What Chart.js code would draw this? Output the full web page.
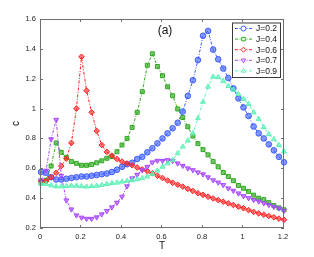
<!DOCTYPE html>
<html><head><meta charset="utf-8">
<script src="https://cdn.jsdelivr.net/npm/chart.js@4/dist/chart.umd.min.js"></script>
<style>html,body{margin:0;padding:0;background:#fff;}#wrap{width:314px;height:257px;}</style>
</head><body><div id="wrap"><canvas id="c" width="314" height="257"></canvas></div>
<script>
// Temperature values (x)
const T = [0.005,0.03,0.055,0.08,0.105,0.13,0.155,0.18,0.205,0.23,0.255,0.28,0.305,0.33,0.355,0.38,0.405,0.43,0.455,0.48,0.505,0.53,0.555,0.58,0.605,0.63,0.655,0.68,0.705,0.73,0.755,0.78,0.805,0.83,0.855,0.88,0.905,0.93,0.955,0.98,1.005,1.03,1.055,1.08,1.105,1.13,1.155,1.18,1.205];
// Specific heat c for each J
const cJ02 = [0.575,0.57,0.54,0.525,0.525,0.53,0.535,0.54,0.545,0.545,0.55,0.555,0.56,0.565,0.575,0.59,0.61,0.627,0.637,0.662,0.677,0.707,0.734,0.767,0.80,0.834,0.868,0.905,0.98,1.085,1.19,1.325,1.488,1.52,1.395,1.33,1.268,1.205,1.135,1.068,1.008,0.95,0.88,0.834,0.80,0.76,0.72,0.677,0.64];
const cJ04 = [0.505,0.52,0.615,0.77,0.707,0.674,0.645,0.633,0.62,0.62,0.625,0.637,0.65,0.667,0.678,0.711,0.756,0.80,0.874,0.975,1.113,1.29,1.367,1.282,1.22,1.146,1.086,0.997,0.94,0.878,0.816,0.765,0.725,0.69,0.645,0.61,0.572,0.545,0.517,0.485,0.466,0.445,0.42,0.40,0.39,0.37,0.35,0.335,0.322];
const cJ06 = [0.515,0.515,0.54,0.57,0.615,0.665,0.77,1.0,1.347,1.12,0.975,0.85,0.756,0.71,0.685,0.662,0.645,0.632,0.62,0.605,0.592,0.58,0.566,0.55,0.535,0.518,0.503,0.49,0.477,0.462,0.448,0.433,0.422,0.41,0.398,0.387,0.376,0.365,0.354,0.343,0.332,0.32,0.308,0.298,0.289,0.28,0.272,0.263,0.255];
const cJ07 = [0.52,0.585,0.795,0.925,0.55,0.385,0.325,0.285,0.27,0.262,0.262,0.272,0.292,0.314,0.339,0.37,0.41,0.48,0.533,0.557,0.588,0.61,0.64,0.651,0.65,0.655,0.65,0.633,0.617,0.60,0.588,0.573,0.56,0.54,0.52,0.505,0.488,0.466,0.45,0.432,0.414,0.40,0.388,0.378,0.366,0.355,0.343,0.332,0.316];
const cJ09 = [0.495,0.495,0.485,0.478,0.478,0.48,0.483,0.483,0.48,0.477,0.48,0.482,0.488,0.494,0.50,0.503,0.51,0.515,0.52,0.526,0.533,0.544,0.562,0.584,0.61,0.633,0.655,0.70,0.745,0.785,0.834,0.935,1.045,1.146,1.213,1.21,1.185,1.15,1.126,1.097,1.064,1.03,0.975,0.93,0.875,0.828,0.794,0.756,0.711];
const seriesLabels = ['J=0.2','J=0.4','J=0.6','J=0.7','J=0.9'];
const xTicks = [0,0.2,0.4,0.6,0.8,1,1.2];
const yTicks = [0.2,0.4,0.6,0.8,1,1.2,1.4,1.6];

const colors = ['#3b5bff','#2fa81f','#ff2020','#a846ff','#5af0b4'];
const fills = ['rgba(59,91,255,0.6)','rgba(47,168,31,0.6)','rgba(255,32,32,0.6)','rgba(168,70,255,0.6)','rgba(90,240,180,0.6)'];
const styles = ['circle','rect','rectRot','triangle','triangle'];
const rots = [0,0,0,180,0];
const allData = [cJ02,cJ04,cJ06,cJ07,cJ09];
const DASH = [3,1.5,1,1.5];

const datasets = allData.map((arr,i)=>({
  label: seriesLabels[i],
  data: T.map((t,k)=>({x:t,y:arr[k]})),
  borderColor: colors[i],
  backgroundColor: fills[i],
  borderWidth: 1,
  borderDash: DASH,
  pointStyle: styles[i],
  pointRotation: rots[i],
  pointRadius: 2.8,
  pointBorderWidth: 1,
  pointBorderColor: colors[i],
  pointBackgroundColor: fills[i],
  tension: 0,
  clip: 4,
  order: 4 - i
}));

const FONT = '"Liberation Sans", Arial, Helvetica, sans-serif';
const AX = '#6e6e6e';

const framePlugin = {
  id: 'frame',
  afterDatasetsDraw(chart){
    const {ctx, chartArea:a, scales} = chart;
    ctx.save();
    ctx.strokeStyle = AX; ctx.lineWidth = 1;
    ctx.strokeRect(Math.round(a.left)+0.5, Math.round(a.top)+0.5, Math.round(a.right-a.left)-1, Math.round(a.bottom-a.top)-1);
    const tl = 3;
    ctx.beginPath();
    xTicks.forEach(v=>{
      const px = Math.round(scales.x.getPixelForValue(v))+0.5;
      ctx.moveTo(px,a.bottom); ctx.lineTo(px,a.bottom-tl);
      ctx.moveTo(px,a.top); ctx.lineTo(px,a.top+tl);
    });
    yTicks.forEach(v=>{
      const py = Math.round(scales.y.getPixelForValue(v))+0.5;
      ctx.moveTo(a.left,py); ctx.lineTo(a.left+tl,py);
      ctx.moveTo(a.right,py); ctx.lineTo(a.right-tl,py);
    });
    ctx.stroke();
    // panel label
    ctx.fillStyle = '#111';
    ctx.font = '12px ' + FONT;
    ctx.textAlign = 'center'; ctx.textBaseline = 'middle';
    ctx.fillText('(a)', 165, 31);
    // legend
    const bx = 232, by = 22.5, bw = 48, bh = 54.5;
    ctx.fillStyle = '#fff';
    ctx.fillRect(bx, by, bw, bh);
    ctx.strokeStyle = '#3a3a3a';
    ctx.strokeRect(bx+0.5, by+0.5, bw, bh);
    ctx.font = '8.5px ' + FONT;
    ctx.textAlign = 'left';
    chart.data.datasets.forEach((d,i)=>{
      const y = 28.5 + i*10.6;
      ctx.strokeStyle = d.borderColor; ctx.lineWidth = 1;
      ctx.setLineDash(DASH);
      ctx.beginPath(); ctx.moveTo(235,y); ctx.lineTo(252,y); ctx.stroke();
      ctx.setLineDash([]);
      ctx.fillStyle = '#fff';
      Chart.helpers.drawPoint(ctx, {pointStyle: d.pointStyle, rotation: d.pointRotation, radius: 2.5, borderWidth: 1}, 243.5, y);
      ctx.fillStyle = '#111';
      ctx.fillText(d.label, 256, y+0.5);
    });
    ctx.restore();
  }
};

new Chart(document.getElementById('c'), {
  type: 'line',
  data: { datasets },
  options: {
    responsive: false,
    animation: false,
    devicePixelRatio: 1,
    layout: { padding: { top: 19, right: 30, left: 0, bottom: 0 } },
    plugins: { legend: { display: false }, tooltip: { enabled: false } },
    scales: {
      x: {
        type: 'linear', min: 0, max: 1.205,
        afterBuildTicks: s => { s.ticks = xTicks.map(v=>({value:v})); },
        afterFit: s => { s.height = 29; },
        grid: { display: false, drawTicks: false },
        border: { display: false },
        ticks: { padding: 4, color: '#222', font: { family: FONT, size: 7.5 }, maxRotation: 0, autoSkip: false,
          callback: v => String(parseFloat(Number(v).toFixed(1))) },
        title: { display: true, text: 'T', color: '#111', font: { family: FONT, size: 10 }, padding: { top: 0, bottom: 5 } }
      },
      y: {
        type: 'linear', min: 0.2, max: 1.6,
        afterBuildTicks: s => { s.ticks = yTicks.map(v=>({value:v})); },
        afterFit: s => { s.width = 40; },
        grid: { display: false, drawTicks: false },
        border: { display: false },
        ticks: { padding: 4, color: '#222', font: { family: FONT, size: 7.5 }, autoSkip: false,
          callback: v => String(parseFloat(Number(v).toFixed(1))) },
        title: { display: true, text: 'c', color: '#111', font: { family: FONT, size: 10 }, padding: { top: 10, bottom: 0 } }
      }
    }
  },
  plugins: [framePlugin]
});
</script>
</body></html>
